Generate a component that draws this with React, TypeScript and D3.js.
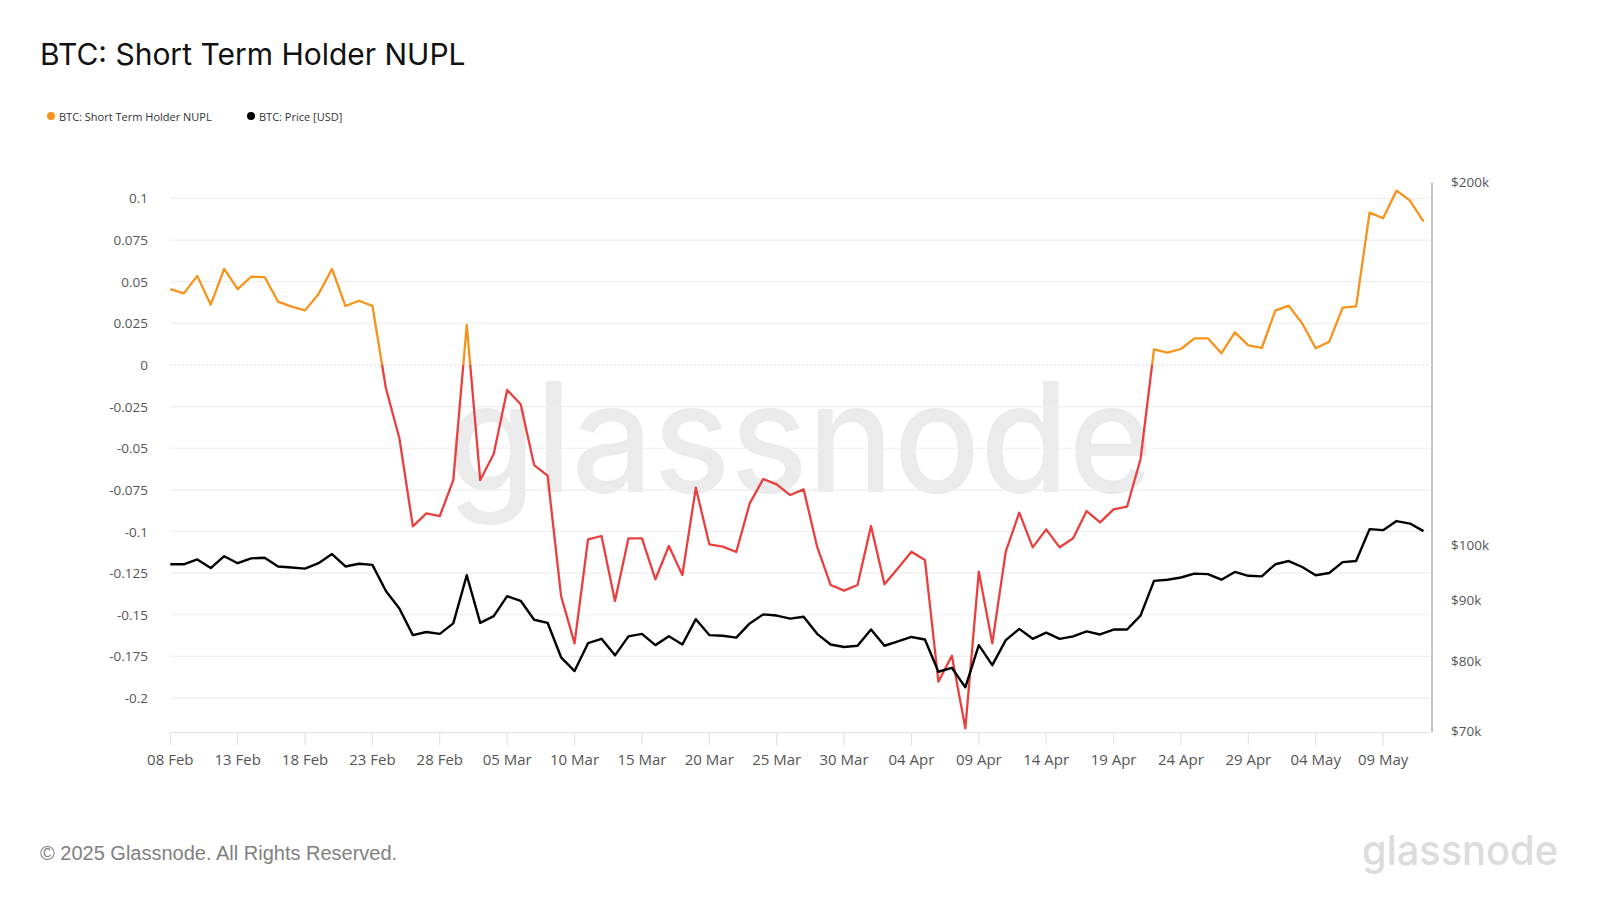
import React, { useEffect, useRef } from "react";
import { select, scaleLinear, scaleLog, scaleUtc, line, utcDay } from "d3";

// daily series, 08 Feb 2025 .. 12 May 2025
const startDate = "2025-02-08";
const endDate = "2025-05-12";

const nuplValues = [
  0.0455, 0.043, 0.0535, 0.0362, 0.0577, 0.0455, 0.053, 0.0528, 0.038, 0.035,
  0.0328, 0.0426, 0.0577, 0.0354, 0.0386, 0.0355, -0.014, -0.044, -0.0969, -0.0891,
  -0.0907, -0.0691, 0.024, -0.0691, -0.0535, -0.015, -0.0236, -0.0601, -0.0665, -0.1387,
  -0.1672, -0.1047, -0.1027, -0.1417, -0.1041, -0.1041, -0.1287, -0.1087, -0.1261, -0.0737,
  -0.1077, -0.1091, -0.1123, -0.0831, -0.0685, -0.0717, -0.0781, -0.0747, -0.1091, -0.1321,
  -0.1355, -0.1321, -0.0967, -0.1317, -0.1221, -0.1121, -0.1171, -0.1902, -0.1746, -0.2182,
  -0.1241, -0.1672, -0.1121, -0.0887, -0.1095, -0.0987, -0.1095, -0.1041, -0.0877, -0.0945,
  -0.0867, -0.0851, -0.0566, 0.0094, 0.0074, 0.0096, 0.016, 0.016, 0.007, 0.0196,
  0.0118, 0.0102, 0.0326, 0.0356, 0.025, 0.01, 0.0139, 0.0344, 0.0352, 0.0915,
  0.0881, 0.1047, 0.0987, 0.0861,
];

const priceValues = [
  96300, 96300, 97200, 95600, 97800, 96500, 97400, 97500, 95900, 95700,
  95500, 96500, 98200, 95900, 96400, 96200, 91500, 88500, 84100, 84600,
  84300, 86000, 94300, 86100, 87200, 90600, 89800, 86600, 86100, 80600,
  78500, 82800, 83500, 80900, 83900, 84300, 82500, 83900, 82600, 86700,
  84100, 84000, 83700, 86000, 87500, 87300, 86800, 87100, 84300, 82600,
  82200, 82400, 85000, 82400, 83100, 83800, 83400, 78400, 79000, 76100,
  82500, 79400, 83300, 85100, 83500, 84500, 83500, 83900, 84700, 84200,
  85000, 85000, 87300, 93300, 93500, 93900, 94600, 94500, 93500, 94900,
  94200, 94100, 96300, 96900, 95800, 94300, 94700, 96700, 96900, 103000,
  102800, 104600, 104100, 102600,
];

const leftTicks = [0.1, 0.075, 0.05, 0.025, 0, -0.025, -0.05, -0.075, -0.1, -0.125, -0.15, -0.175, -0.2];
const leftTickLabels = ["0.1", "0.075", "0.05", "0.025", "0", "-0.025", "-0.05", "-0.075", "-0.1", "-0.125", "-0.15", "-0.175", "-0.2"];

const rightTicks = [200000, 100000, 90000, 80000, 70000];
const rightTickLabels = ["$200k", "$100k", "$90k", "$80k", "$70k"];

const xTickDates = [
  "2025-02-08", "2025-02-13", "2025-02-18", "2025-02-23", "2025-02-28",
  "2025-03-05", "2025-03-10", "2025-03-15", "2025-03-20", "2025-03-25",
  "2025-03-30", "2025-04-04", "2025-04-09", "2025-04-14", "2025-04-19",
  "2025-04-24", "2025-04-29", "2025-05-04", "2025-05-09",
];
const xTickLabels = [
  "08 Feb", "13 Feb", "18 Feb", "23 Feb", "28 Feb",
  "05 Mar", "10 Mar", "15 Mar", "20 Mar", "25 Mar",
  "30 Mar", "04 Apr", "09 Apr", "14 Apr", "19 Apr",
  "24 Apr", "29 Apr", "04 May", "09 May",
];

const title = "BTC: Short Term Holder NUPL";
const legendItems = ["BTC: Short Term Holder NUPL", "BTC: Price [USD]"];

const ORANGE = "#f7931a";
const RED = "#e9403f";
const TICK_FONT = "'Open Sans', 'Noto Sans', sans-serif";

export default function App() {
  const svgRef = useRef<SVGSVGElement | null>(null);

  useEffect(() => {
    const width = 1600;
    const height = 900;
    const left = 170.3;
    const right = 1430;
    const top = 182.3;
    const bottom = 732.5;

    const dates = utcDay.range(new Date(startDate), utcDay.offset(new Date(endDate), 1));

    const x = scaleUtc()
      .domain([new Date(startDate), new Date(endDate)])
      .range([left, 1423.5]);
    const yNupl = scaleLinear().domain([-0.2207, 0.1097]).range([bottom, top]);
    const yPrice = scaleLog().domain([70000, 200000]).range([731, top]);

    const svg = select(svgRef.current);
    svg.selectAll("*").remove();
    svg.attr("width", width).attr("height", height);

    svg.append("rect").attr("width", width).attr("height", height).attr("fill", "#ffffff");

    // title
    svg
      .append("text")
      .attr("x", 40)
      .attr("y", 65)
      .attr("font-family", "Inter, sans-serif")
      .attr("font-size", 30)
      .attr("fill", "#111")
      .text(title);

    // legend
    const legend = svg.append("g").attr("font-family", TICK_FONT).attr("font-size", 11).attr("fill", "#333");
    const legendX = [51, 251];
    const legendColors = [ORANGE, "#000"];
    legendItems.forEach((label, i) => {
      legend.append("circle").attr("cx", legendX[i]).attr("cy", 116).attr("r", 4).attr("fill", legendColors[i]);
      legend
        .append("text")
        .attr("x", legendX[i] + 8)
        .attr("y", 116)
        .attr("dominant-baseline", "central")
        .text(label);
    });

    // watermark
    svg
      .append("text")
      .attr("x", 447)
      .attr("y", 492)
      .attr("font-family", "Inter, sans-serif")
      .attr("font-weight", 500)
      .attr("font-size", 152)
      .attr("textLength", 706)
      .attr("lengthAdjust", "spacingAndGlyphs")
      .attr("fill", "#ebebeb")
      .text("glassnode");

    // grid
    const grid = svg.append("g");
    leftTicks.forEach((t) => {
      grid
        .append("line")
        .attr("x1", left)
        .attr("x2", right)
        .attr("y1", yNupl(t))
        .attr("y2", yNupl(t))
        .attr("stroke", t === 0 ? "#c8c8c8" : "#eeeeee")
        .attr("stroke-width", t === 0 ? 0.8 : 1.2)
        .attr("stroke-dasharray", t === 0 ? "2,2" : null);
    });

    // left labels
    const leftAxis = svg.append("g").attr("font-family", TICK_FONT).attr("font-size", 13.5).attr("fill", "#555");
    leftTicks.forEach((t, i) => {
      leftAxis
        .append("text")
        .attr("x", 148)
        .attr("y", yNupl(t))
        .attr("text-anchor", "end")
        .attr("dominant-baseline", "central")
        .text(leftTickLabels[i]);
    });

    // x axis
    const xAxis = svg.append("g");
    xAxis
      .append("line")
      .attr("x1", left)
      .attr("x2", right)
      .attr("y1", bottom)
      .attr("y2", bottom)
      .attr("stroke", "#e3e3e3")
      .attr("stroke-width", 1.2);
    xTickDates.forEach((d, i) => {
      const px = x(new Date(d));
      xAxis
        .append("line")
        .attr("x1", px)
        .attr("x2", px)
        .attr("y1", bottom)
        .attr("y2", 745)
        .attr("stroke", "#e3e3e3")
        .attr("stroke-width", 1.2);
      xAxis
        .append("text")
        .attr("x", px)
        .attr("y", 764.5)
        .attr("text-anchor", "middle")
        .attr("font-family", TICK_FONT)
        .attr("font-size", 15)
        .attr("fill", "#555")
        .text(xTickLabels[i]);
    });

    // right axis
    const rightAxis = svg.append("g");
    rightAxis
      .append("line")
      .attr("x1", 1432)
      .attr("x2", 1432)
      .attr("y1", top)
      .attr("y2", bottom)
      .attr("stroke", "#8a8a8a")
      .attr("stroke-width", 1);
    rightTicks.forEach((t, i) => {
      rightAxis
        .append("text")
        .attr("x", 1451)
        .attr("y", yPrice(t))
        .attr("dominant-baseline", "central")
        .attr("font-family", TICK_FONT)
        .attr("font-size", 13.5)
        .attr("fill", "#555")
        .text(rightTickLabels[i]);
    });

    // nupl line, orange above zero and red below
    const zeroY = yNupl(0);
    const defs = svg.append("defs");
    defs
      .append("clipPath")
      .attr("id", "clip-above")
      .append("rect")
      .attr("x", 0)
      .attr("y", 0)
      .attr("width", width)
      .attr("height", zeroY);
    defs
      .append("clipPath")
      .attr("id", "clip-below")
      .append("rect")
      .attr("x", 0)
      .attr("y", zeroY)
      .attr("width", width)
      .attr("height", height - zeroY);

    const nuplLine = line<number>()
      .x((_, i) => x(dates[i]))
      .y((d) => yNupl(d));

    [
      ["clip-above", ORANGE],
      ["clip-below", RED],
    ].forEach(([clip, color]) => {
      svg
        .append("path")
        .datum(nuplValues)
        .attr("d", nuplLine)
        .attr("fill", "none")
        .attr("stroke", color)
        .attr("stroke-width", 2.3)
        .attr("stroke-linejoin", "round")
        .attr("clip-path", `url(#${clip})`);
    });

    const priceLine = line<number>()
      .x((_, i) => x(dates[i]))
      .y((d) => yPrice(d));

    svg
      .append("path")
      .datum(priceValues)
      .attr("d", priceLine)
      .attr("fill", "none")
      .attr("stroke", "#000")
      .attr("stroke-width", 2.4)
      .attr("stroke-linejoin", "round");

    // footer
    svg
      .append("text")
      .attr("x", 40)
      .attr("y", 860)
      .attr("font-family", "'Liberation Sans', Arial, sans-serif")
      .attr("font-size", 20)
      .attr("fill", "#808080")
      .text("© 2025 Glassnode. All Rights Reserved.");

    svg
      .append("text")
      .attr("x", 1362)
      .attr("y", 865)
      .attr("font-family", "Inter, sans-serif")
      .attr("font-weight", 500)
      .attr("font-size", 41)
      .attr("textLength", 196)
      .attr("lengthAdjust", "spacingAndGlyphs")
      .attr("fill", "#dcdcdc")
      .text("glassnode");
  }, []);

  return (
    <div>
      <svg ref={svgRef} style={{ position: "absolute", left: 0, top: 0 }}></svg>
    </div>
  );
}
